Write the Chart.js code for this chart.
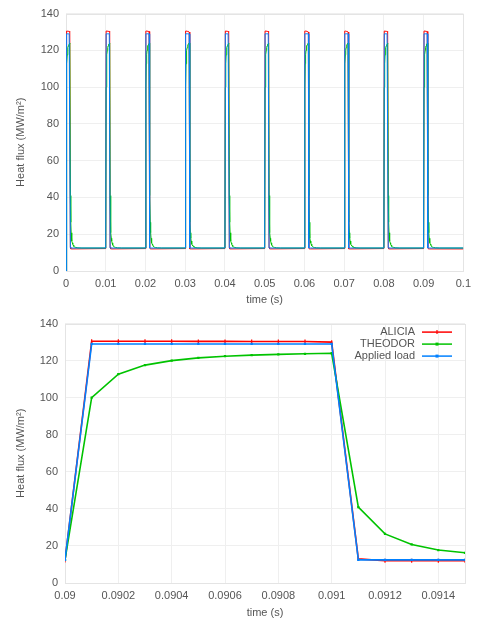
<!DOCTYPE html>
<html><head><meta charset="utf-8">
<script src="https://cdn.jsdelivr.net/npm/chart.js@4"></script>
<style>
html,body{margin:0;padding:0;background:#fff;}
.box{position:absolute;left:0;width:477px;height:310px;}
</style></head><body>
<div class="box" style="top:0"><canvas id="c1"></canvas></div>
<div class="box" style="top:310px"><canvas id="c2"></canvas></div>
<script>
// ---------------- DATA ----------------
const seriesNames = ['ALICIA', 'THEODOR', 'Applied load'];
const seriesColors = ['rgb(255,0,0)', 'rgb(0,195,0)', 'rgb(0,128,255)'];

// Zoomed window (bottom panel): one pulse, 0.09 .. 0.0915 s
const timeZoom = [0.09, 0.0901, 0.0902, 0.0903, 0.0904, 0.0905, 0.0906, 0.0907,
                  0.0908, 0.0909, 0.091, 0.0911, 0.0912, 0.0913, 0.0914, 0.0915];
const aliciaZoom  = [12.2, 130.5, 130.5, 130.5, 130.5, 130.4, 130.4, 130.3, 130.3, 130.3, 130.0, 13.0, 12.0, 12.0, 12.0, 12.0];
const theodorZoom = [12.5, 100.0, 112.7, 117.6, 120.0, 121.5, 122.4, 123.0, 123.4, 123.7, 124.0, 41.0, 26.5, 20.8, 17.8, 16.3];
const loadZoom    = [12.5, 129.0, 129.0, 129.0, 129.0, 129.0, 129.0, 129.0, 129.0, 129.0, 129.0, 12.5, 12.5, 12.5, 12.5, 12.5];

// THEODOR decay after the zoom window (time after pulse start, value)
const theodorTailOffset = [0.0016, 0.0017, 0.0018, 0.0019, 0.0020, 0.0022, 0.0025, 0.0030, 0.0040];
const theodorTail       = [15.3, 14.6, 14.1, 13.7, 13.4, 13.0, 12.8, 12.6, 12.5];

// Full run (top panel): pulse start times and initial value at t = 0
const pulseStarts = [0, 0.01, 0.02, 0.03, 0.04, 0.05, 0.06, 0.07, 0.08, 0.09];
const initialValue = 0;
const runEnd = 0.1;

// Axis ticks
const yTicks = [0, 20, 40, 60, 80, 100, 120, 140];
const xTicksTop = [0, 0.01, 0.02, 0.03, 0.04, 0.05, 0.06, 0.07, 0.08, 0.09, 0.1];
const xTickLabelsTop = ['0', '0.01', '0.02', '0.03', '0.04', '0.05', '0.06', '0.07', '0.08', '0.09', '0.1'];
const xTicksBottom = [0.09, 0.0902, 0.0904, 0.0906, 0.0908, 0.091, 0.0912, 0.0914];
const xTickLabelsBottom = ['0.09', '0.0902', '0.0904', '0.0906', '0.0908', '0.091', '0.0912', '0.0914'];
const xTitle = 'time (s)';
const yTitle = 'Heat flux (MW/m\u00B2)';

// ---------------- BUILD ----------------
function fullRun(zoomVals, tailOff, tailVals) {
  const pts = [];
  pulseStarts.forEach((s, p) => {
    timeZoom.forEach((t, i) => {
      let v = zoomVals[i];
      if (p === 0 && i === 0) v = initialValue;
      pts.push({x: +(s + (t - timeZoom[0])).toFixed(6), y: v});
    });
    if (tailOff) tailOff.forEach((o, i) => pts.push({x: +(s + o).toFixed(6), y: tailVals[i]}));
  });
  const last = tailVals ? tailVals[tailVals.length - 1] : zoomVals[zoomVals.length - 1];
  pts.push({x: runEnd, y: last});
  return pts;
}
function zoomRun(vals) { return timeZoom.map((t, i) => ({x: t, y: vals[i]})); }

const zoomSets = [aliciaZoom, theodorZoom, loadZoom];
const drawOrder = [2, 1, 0];
const markerStyle = ['line', 'rect', 'rect'];
const markerRot = [90, 0, 0];
const FONT = '"Liberation Sans", Arial, sans-serif';
const TXT = '#555555';
const GRID = '#efefef';

const frame = {
  id: 'frame',
  beforeDatasetsDraw(chart) {
    const a = chart.chartArea, c = chart.ctx;
    c.save(); c.strokeStyle = '#e4e4e4'; c.lineWidth = 1;
    c.strokeRect(Math.round(a.left) + 0.5, Math.round(a.top) + 0.5, Math.round(a.right - a.left), Math.round(a.bottom - a.top));
    c.restore();
  }
};

const legendPlugin = {
  id: 'lg',
  afterDraw(chart) {
    const a = chart.chartArea, c = chart.ctx;
    c.save();
    c.font = '11px ' + FONT; c.textAlign = 'right'; c.textBaseline = 'middle';
    chart.data.datasets.forEach((ds, i) => {
      const y = a.top + 8.5 + i * 12;
      const x1 = a.right - 43, x2 = a.right - 13;
      c.fillStyle = TXT;
      c.fillText(ds.label, x1 - 7, y);
      c.strokeStyle = ds.borderColor; c.lineWidth = 1.5;
      c.beginPath(); c.moveTo(x1, y); c.lineTo(x2, y); c.stroke();
      c.fillStyle = ds.borderColor;
      const xm = (x1 + x2) / 2;
      if (i === 0) { c.lineWidth = 1.2; c.beginPath(); c.moveTo(xm, y - 2); c.lineTo(xm, y + 2); c.stroke(); }
      else c.fillRect(xm - 1.5, y - 1.5, 3, 3);
    });
    c.restore();
  }
};

function makeChart(id, datasets, xmin, xmax, xt, xl, opts) {
  return new Chart(document.getElementById(id), {
    type: 'line',
    data: {datasets},
    options: {
      responsive: true, maintainAspectRatio: false, animation: false,
      layout: {padding: {top: opts.top, right: opts.right, left: 0, bottom: 0}},
      plugins: {legend: {display: false}, tooltip: {enabled: false}},
      scales: {
        x: {
          type: 'linear', min: xmin, max: xmax,
          afterBuildTicks: s => { s.ticks = xt.map(v => ({value: v})); },
          afterFit: s => { s.height = opts.xh; },
          ticks: {callback: (v, i) => xl[i], color: TXT, font: {family: FONT, size: 11}, padding: 6, maxRotation: 0, autoSkip: false},
          grid: {color: GRID, drawTicks: false},
          border: {display: false},
          title: {display: true, text: xTitle, color: TXT, font: {family: FONT, size: 11}, padding: {top: 0, bottom: opts.xtp}}
        },
        y: {
          min: 0, max: 140,
          afterBuildTicks: s => { s.ticks = yTicks.map(v => ({value: v})); },
          afterFit: s => { s.width = opts.yw; },
          ticks: {color: TXT, font: {family: FONT, size: 11}, padding: 7},
          grid: {color: GRID, drawTicks: false},
          border: {display: false},
          title: {display: true, text: yTitle, color: TXT, font: {family: FONT, size: 11}, padding: {top: 14, bottom: 0}}
        }
      }
    },
    plugins: opts.legend ? [frame, legendPlugin] : [frame]
  });
}

const topSets = seriesNames.map((n, k) => ({
  label: n,
  data: k === 1 ? fullRun(zoomSets[k], theodorTailOffset, theodorTail) : fullRun(zoomSets[k]),
  borderColor: seriesColors[k], borderWidth: 1, pointRadius: 0, tension: 0, order: drawOrder[k]
}));
const bottomSets = seriesNames.map((n, k) => ({
  label: n, data: zoomRun(zoomSets[k]),
  borderColor: seriesColors[k], backgroundColor: seriesColors[k], borderWidth: 1.6,
  pointStyle: markerStyle[k], rotation: markerRot[k], pointRadius: k === 0 ? 2 : 1.6,
  pointBorderWidth: k === 0 ? 1.2 : 0, tension: 0, order: drawOrder[k]
}));

makeChart('c1', topSets, 0, 0.1, xTicksTop, xTickLabelsTop, {top: 10, right: 13, xh: 39, yw: 66, xtp: 3, legend: false});
makeChart('c2', bottomSets, 0.09, 0.0915, xTicksBottom, xTickLabelsBottom, {top: 13, right: 12, xh: 37, yw: 65, xtp: 0, legend: true});
</script></body></html>
